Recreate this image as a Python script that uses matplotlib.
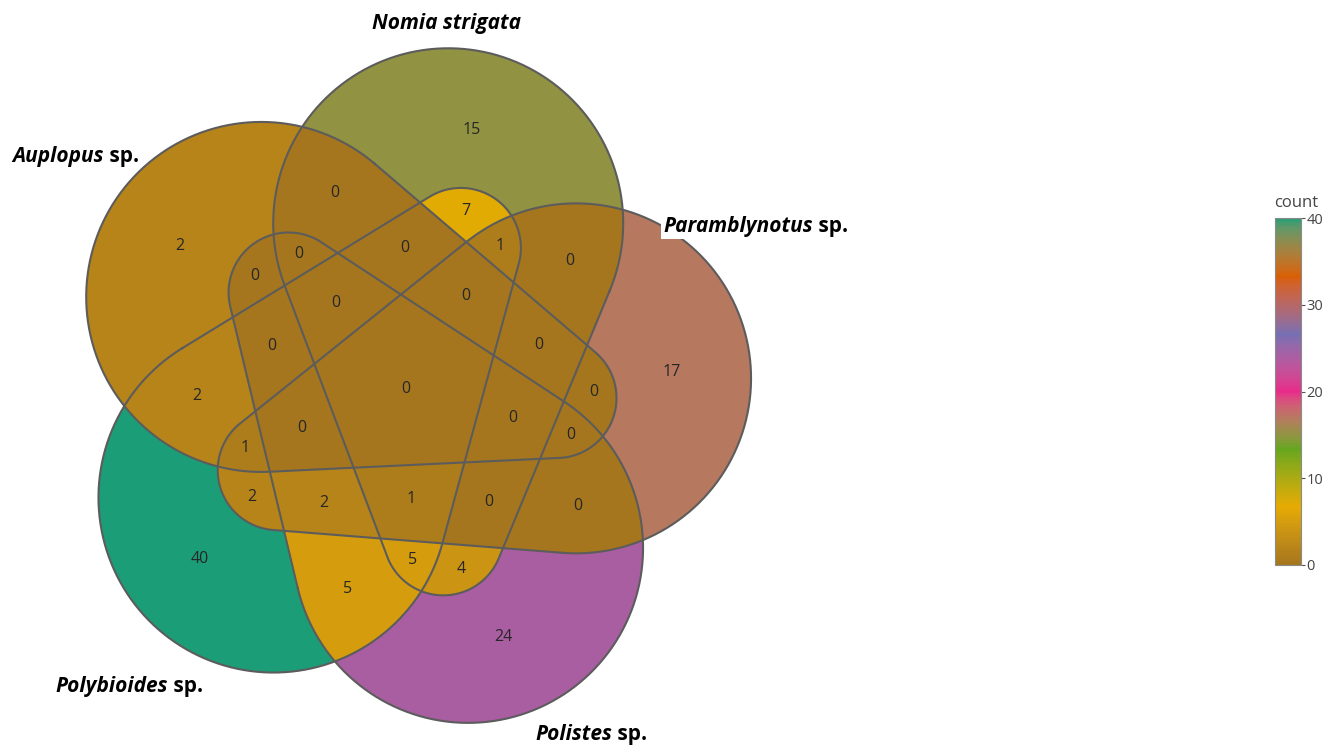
import numpy as np
import matplotlib
matplotlib.use("Agg")
import matplotlib.pyplot as plt
from matplotlib.path import Path
from matplotlib.colors import ListedColormap, Normalize
from matplotlib.cm import ScalarMappable

set_names = ["Nomia strigata", "Auplopus sp.", "Polybioides sp.", "Polistes sp.", "Paramblynotus sp."]

# membership code per region (one digit per set, same order as set_names) and its count
region_codes = [
    "10000", "01000", "00100", "00010", "00001",
    "11000", "10100", "10010", "10001", "01100",
    "01010", "01001", "00110", "00101", "00011",
    "11100", "11010", "11001", "10110", "10101",
    "10011", "01110", "01101", "01011", "00111",
    "11110", "11101", "11011", "10111", "01111",
    "11111",
]
region_counts = [
    15, 2, 40, 24, 17,
    0, 7, 4, 0, 2,
    0, 0, 5, 2, 0,
    0, 0, 0, 5, 1,
    0, 0, 1, 0, 2,
    0, 0, 0, 1, 0,
    0,
]

# Dark2 palette, reversed, spread over 0..40
palette = ["#A6761D", "#E6AB02", "#66A61E", "#E7298A", "#7570B3", "#D95F02", "#1B9E77"]
count_max = 40

# each set: hull of a big circle and a small tip circle, copies rotated by 72 deg
R_BIG, R_TIP = 1.0, 0.343
D_BIG, D_TIP = 0.977, 0.865
TIP_TURN = -151.0
START = 75.5

# figure pixel layout: venn centre and pixels per unit
W, H = 1333, 746
CX, CY, UNIT = 405.4, 388.8, 175.0


def px(x, y):
    return (x - CX) / UNIT, (CY - y) / UNIT


def egg_path(k, n=400):
    th = np.radians(START + 72 * k)
    tt = th + np.radians(TIP_TURN)
    P = D_BIG * np.array([np.cos(th), np.sin(th)])
    Q = D_TIP * np.array([np.cos(tt), np.sin(tt)])
    d = np.linalg.norm(Q - P)
    a = (Q - P) / d
    nrm = np.array([-a[1], a[0]])
    phi = np.arccos((R_BIG - R_TIP) / d)
    t1 = np.linspace(phi, 2 * np.pi - phi, n)
    t2 = np.linspace(-phi, phi, n // 3)
    big = P + R_BIG * (np.cos(t1)[:, None] * a + np.sin(t1)[:, None] * nrm)
    tip = Q + R_TIP * (np.cos(t2)[:, None] * a + np.sin(t2)[:, None] * nrm)
    return Path(np.vstack([big, tip, big[:1]]), closed=True)


# colour ramp interpolated in CIELAB
def srgb_to_lab(rgb):
    c = np.where(rgb <= 0.04045, rgb / 12.92, ((rgb + 0.055) / 1.055) ** 2.4)
    M = np.array([[0.4124, 0.3576, 0.1805], [0.2126, 0.7152, 0.0722], [0.0193, 0.1192, 0.9505]])
    xyz = c @ M.T / np.array([0.95047, 1.0, 1.08883])
    f = np.where(xyz > 0.008856, np.cbrt(xyz), 7.787 * xyz + 16 / 116)
    return np.stack([116 * f[..., 1] - 16, 500 * (f[..., 0] - f[..., 1]), 200 * (f[..., 1] - f[..., 2])], -1)


def lab_to_srgb(lab):
    fy = (lab[..., 0] + 16) / 116
    fx = fy + lab[..., 1] / 500
    fz = fy - lab[..., 2] / 200
    f = np.stack([fx, fy, fz], -1)
    xyz = np.where(f ** 3 > 0.008856, f ** 3, (f - 16 / 116) / 7.787) * np.array([0.95047, 1.0, 1.08883])
    Mi = np.array([[3.2406, -1.5372, -0.4986], [-0.9689, 1.8758, 0.0415], [0.0557, -0.2040, 1.0570]])
    c = xyz @ Mi.T
    c = np.where(c <= 0.0031308, 12.92 * c, 1.055 * np.clip(c, 0, None) ** (1 / 2.4) - 0.055)
    return np.clip(c, 0, 1)


stops = np.array([[int(h[i:i + 2], 16) / 255 for i in (1, 3, 5)] for h in palette])
stops_lab = srgb_to_lab(stops)
pos = np.linspace(0, 1, len(palette))
s = np.linspace(0, 1, 256)
ramp_lab = np.stack([np.interp(s, pos, stops_lab[:, j]) for j in range(3)], -1)
cmap = ListedColormap(lab_to_srgb(ramp_lab))
norm = Normalize(0, count_max)

plt.rcParams["font.family"] = ["Open Sans", "DejaVu Sans"]

paths = [egg_path(k) for k in range(5)]

# rasterise region membership
xs = np.linspace(-2.1, 2.1, 1400)
ys = np.linspace(-2.1, 2.1, 1400)
gx, gy = np.meshgrid(xs, ys)
pts = np.column_stack([gx.ravel(), gy.ravel()])
code = np.zeros(len(pts), dtype=int)
for k, p in enumerate(paths):
    code += p.contains_points(pts).astype(int) << k

code_index = {int(c[::-1], 2): i for i, c in enumerate(region_codes)}
counts_img = np.full(len(pts), np.nan)
for c, i in code_index.items():
    counts_img[code == c] = region_counts[i]
rgba = cmap(norm(counts_img))
rgba[np.isnan(counts_img), 3] = 0
rgba = rgba.reshape(gx.shape + (4,))

fig = plt.figure(figsize=(W / 100, H / 100), dpi=100)
ax = fig.add_axes([0, 0, 1, 1])
ax.set_xlim(px(0, 0)[0], px(W, 0)[0])
ax.set_ylim(px(0, H)[1], px(0, 0)[1])
ax.axis("off")

ax.imshow(rgba, extent=(xs[0], xs[-1], ys[0], ys[-1]), origin="lower",
          interpolation="nearest", zorder=1)
for p in paths:
    ax.plot(p.vertices[:, 0], p.vertices[:, 1], color="#5c5c5c", lw=1.5, zorder=2)

# count labels at region centroids
for c, i in code_index.items():
    m = code == c
    cx, cy = pts[m].mean(axis=0)
    ax.text(cx, cy, str(region_counts[i]), ha="center", va="center",
            fontsize=11.5, color="#262626", zorder=3)

# set names: genus in bold italic, "sp." upright
label_font = ["Open Sans", "DejaVu Sans"]
name_spots = [(372, 29), (12, 162), (55, 692), (535, 740), (663, 232)]
for name, (lx, ly) in zip(set_names, name_spots):
    genus, _, rest = name.partition(" ")
    boxed = genus == "Paramblynotus"
    t = ax.text(*px(lx, ly), genus if rest == "sp." else name, ha="left", va="baseline",
                fontsize=15, fontweight="bold", style="italic", family=label_font, zorder=4,
                bbox=dict(facecolor="white", edgecolor="none", pad=1.5) if boxed else None)
    if rest == "sp.":
        ax.annotate(" sp.", xy=(1, 0), xycoords=t, ha="left", va="bottom", fontsize=15,
                    fontweight="bold", family=label_font, zorder=4)

# colour bar
cax = fig.add_axes([1275 / W, (H - 565) / H, 26 / W, (565 - 218) / H])
cb = fig.colorbar(ScalarMappable(norm=norm, cmap=cmap), cax=cax, ticks=[0, 10, 20, 30, 40])
cb.outline.set_edgecolor("#8a8a8a")
cb.outline.set_linewidth(0.8)
cax.tick_params(direction="out", length=3, width=0.8, color="#555555",
                labelsize=10.5, labelcolor="#444444", pad=1)
fig.text(1296 / W, 1 - 203 / H, "count", ha="center", va="center", fontsize=12, color="#444444")

fig.savefig("out.png", dpi=100)
